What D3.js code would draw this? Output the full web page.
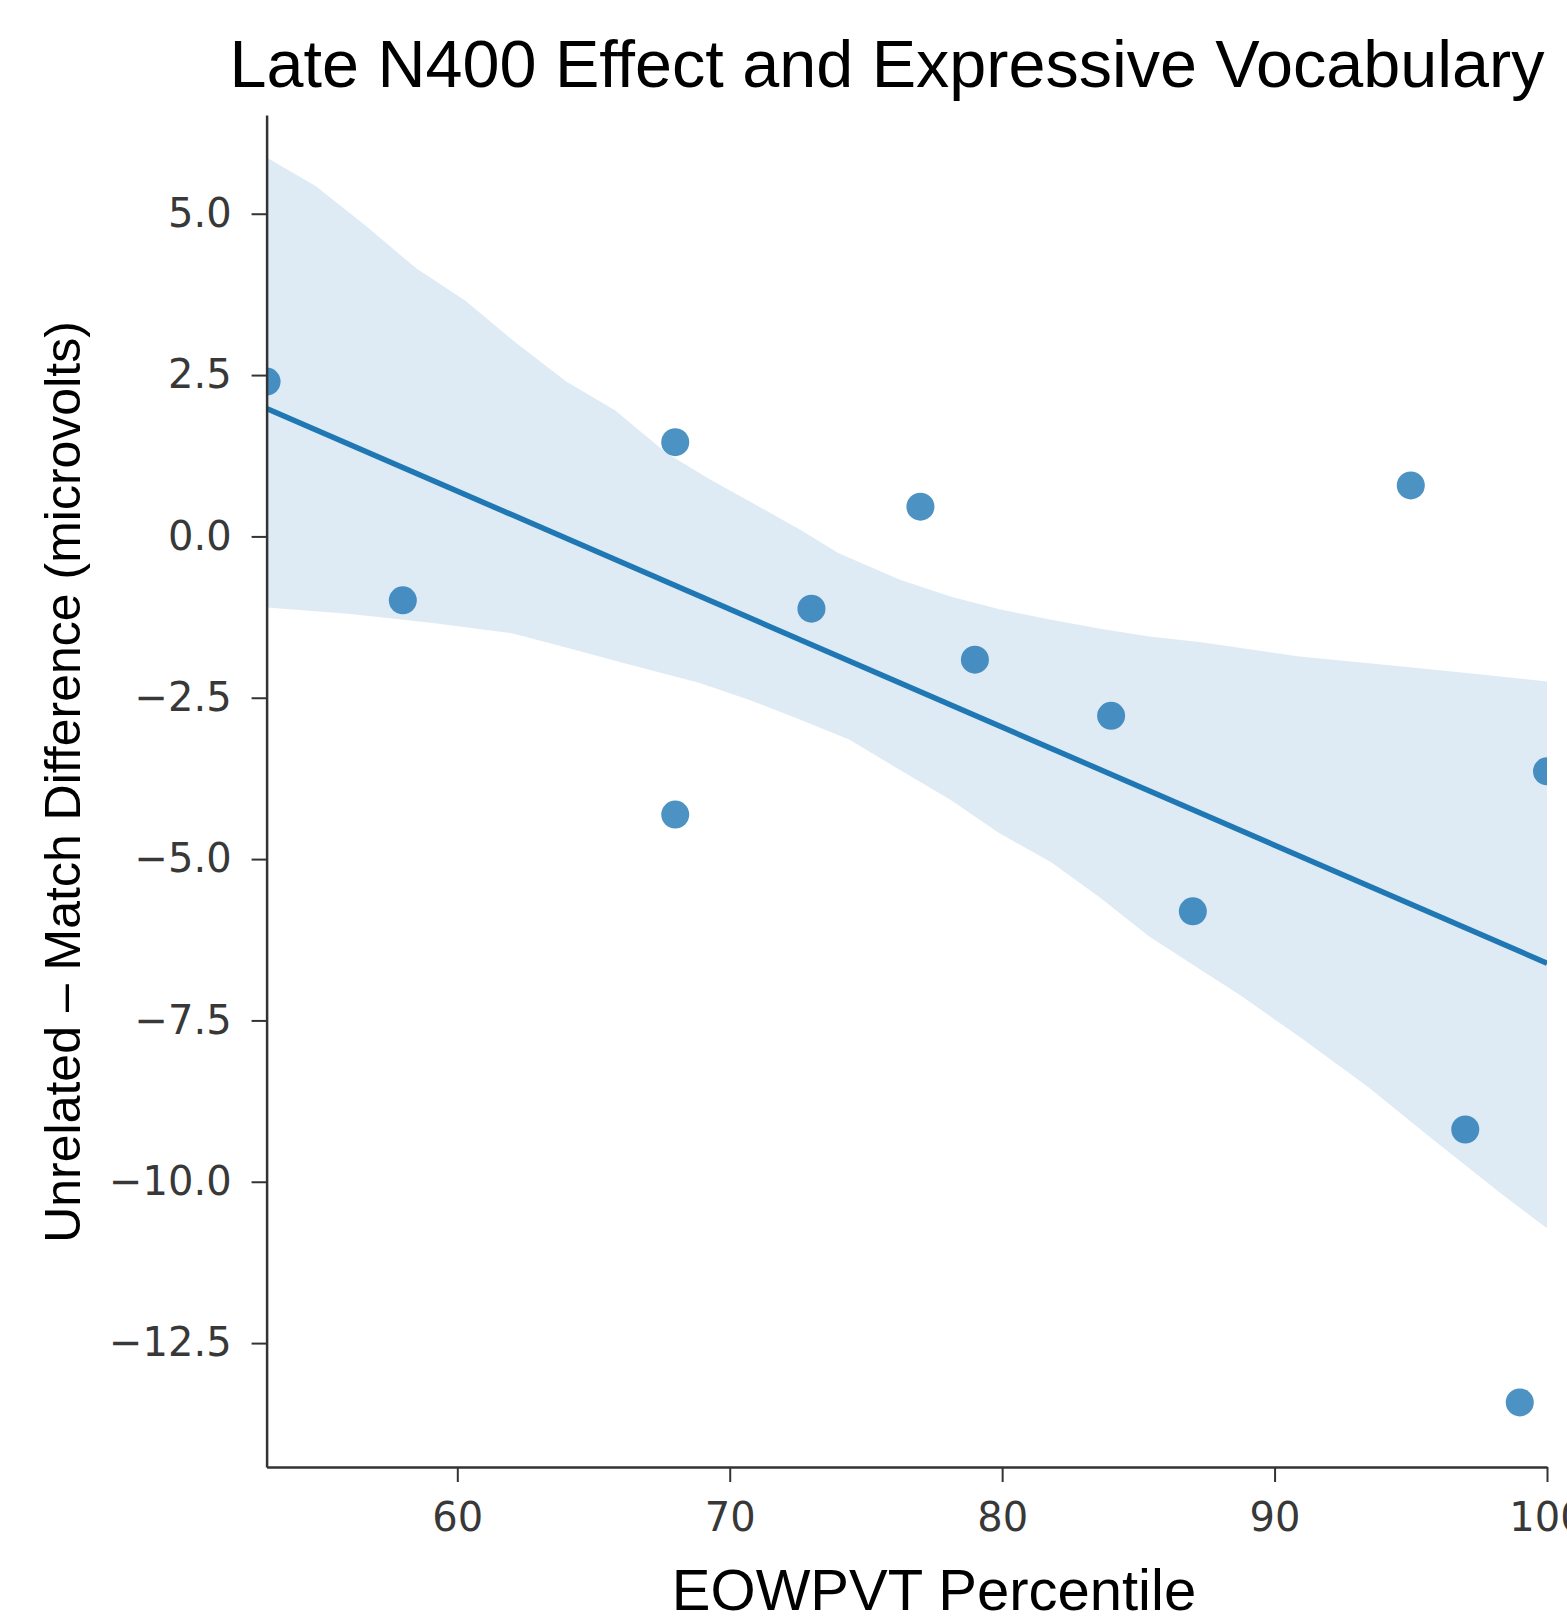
<!DOCTYPE html>
<html>
<head>
<meta charset="utf-8">
<script src="https://cdn.jsdelivr.net/npm/d3@7"></script>
<style>
  body { margin: 0; background: #fff; }
  .tick text { font-family: "DejaVu Sans", sans-serif; fill: #383838; }
  .lbl { font-family: "Liberation Sans", Arial, sans-serif; fill: #000; }
</style>
</head>
<body>
<svg id="chart" width="1567" height="1617"></svg>
<script>
// data
var eowpvt   = [53, 58, 68, 68, 73, 77, 79, 84, 87, 95, 97, 99, 100];
var n400Diff = [2.40, -0.99, 1.46, -4.31, -1.12, 0.46, -1.91, -2.78, -5.81, 0.79, -9.19, -13.42, -3.64];

// edges of the confidence band, [x, y]
var ciUpper = [[53, 5.87], [54.8, 5.43], [56.65, 4.81], [58.5, 4.15], [60.3, 3.65], [62.15, 3.0],
               [64, 2.4], [65.8, 1.95], [67.65, 1.3], [69.2, 0.9], [70.7, 0.55], [72.6, 0.1],
               [74, -0.26], [76.25, -0.67], [78.1, -0.93], [79.9, -1.13], [81.8, -1.29],
               [83.6, -1.43], [85.4, -1.55], [87.3, -1.64], [90.9, -1.86], [94.6, -2.01],
               [98.3, -2.17], [100, -2.25]];
var ciLower = [[53, -1.10], [56, -1.2], [59.1, -1.34], [62, -1.5], [64, -1.72], [66, -1.95],
               [68.9, -2.27], [70.7, -2.53], [72.6, -2.84], [74.4, -3.15], [76.25, -3.62],
               [78.1, -4.08], [79.9, -4.6], [81.8, -5.05], [83.6, -5.6], [85.4, -6.2],
               [87.3, -6.72], [88.7, -7.1], [90.9, -7.75], [93.4, -8.52], [95.8, -9.34],
               [98.3, -10.18], [100, -10.72]];

var xTicks = [60, 70, 80, 90, 100];
var yTicks = [-12.5, -10, -7.5, -5, -2.5, 0, 2.5, 5];

var svg = d3.select("#chart");

var x = d3.scaleLinear().domain([53, 100]).range([266.6, 1547]);
var y = d3.scaleLinear().domain([-14.42, 6.53]).range([1467, 115]);

// clip to plot area
svg.append("clipPath").attr("id", "plotclip")
    .append("rect")
    .attr("x", x.range()[0]).attr("y", y.range()[1])
    .attr("width", x.range()[1] - x.range()[0])
    .attr("height", y.range()[0] - y.range()[1]);

var plot = svg.append("g").attr("clip-path", "url(#plotclip)");

// confidence band
var bandPts = ciUpper.concat(ciLower.slice().reverse());
plot.append("path")
    .attr("d", d3.line().x(function(d) { return x(d[0]); }).y(function(d) { return y(d[1]); })(bandPts) + "Z")
    .style("fill", "#1f77b4")
    .style("fill-opacity", 0.15)
    .style("stroke", "none");

// least squares fit
var mx = d3.mean(eowpvt), my = d3.mean(n400Diff);
var sxy = d3.sum(eowpvt, function(v, i) { return (v - mx) * (n400Diff[i] - my); });
var sxx = d3.sum(eowpvt, function(v) { return (v - mx) * (v - mx); });
var slope = sxy / sxx, icpt = my - slope * mx;
var fit = x.domain().map(function(v) { return [v, icpt + slope * v]; });

plot.append("path")
    .attr("d", d3.line().x(function(d) { return x(d[0]); }).y(function(d) { return y(d[1]); })(fit))
    .style("fill", "none")
    .style("stroke", "#1f77b4")
    .style("stroke-width", 5.5);

// points
plot.selectAll("circle")
    .data(eowpvt)
    .enter()
    .append("circle")
        .attr("cx", function(d) { return x(d); })
        .attr("cy", function(d, i) { return y(n400Diff[i]); })
        .attr("r", 14)
        .style("fill", "#1f77b4")
        .style("fill-opacity", 0.8);

// axes
var gx = svg.append("g")
    .attr("transform", "translate(0," + y.range()[0] + ")")
    .call(d3.axisBottom(x).tickValues(xTicks).tickFormat(d3.format("d"))
          .tickSize(15).tickSizeOuter(0).tickPadding(21));

var gy = svg.append("g")
    .attr("transform", "translate(" + x.range()[0] + ",0)")
    .call(d3.axisLeft(y).tickValues(yTicks).tickFormat(d3.format(".1f"))
          .tickSize(15).tickSizeOuter(0).tickPadding(20));

[gx, gy].forEach(function(g) {
    g.select(".domain").style("stroke", "#333").style("stroke-width", 2.5);
    g.selectAll(".tick line").style("stroke", "#333").style("stroke-width", 2);
    g.selectAll(".tick text").style("font-size", "40px");
});

// titles
svg.append("text").attr("class", "lbl")
    .attr("x", 887).attr("y", 87)
    .attr("text-anchor", "middle")
    .style("font-size", "66.5px")
    .text("Late N400 Effect and Expressive Vocabulary");

svg.append("text").attr("class", "lbl")
    .attr("x", 934).attr("y", 1610)
    .attr("text-anchor", "middle")
    .style("font-size", "58px")
    .text("EOWPVT Percentile");

svg.append("text").attr("class", "lbl")
    .attr("transform", "translate(80,782) rotate(-90)")
    .attr("text-anchor", "middle")
    .style("font-size", "50px")
    .text("Unrelated – Match Difference (microvolts)");
</script>
</body>
</html>
